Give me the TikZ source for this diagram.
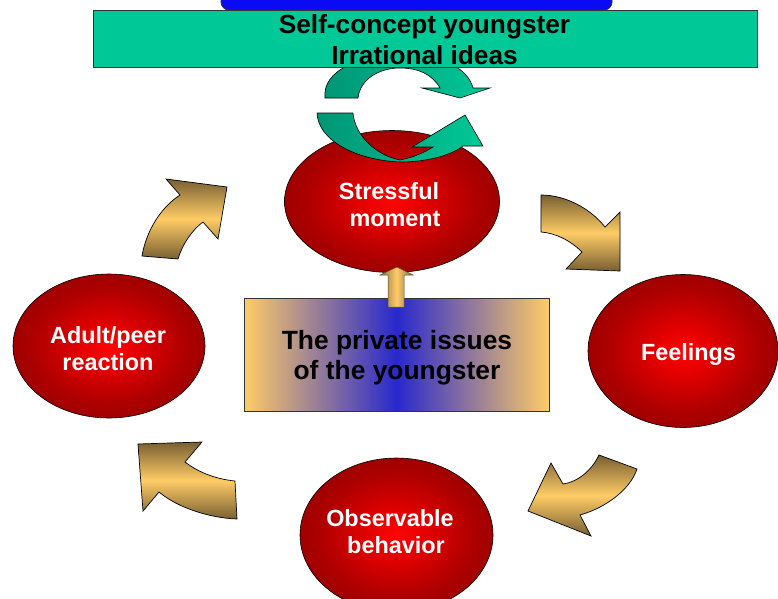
\documentclass[tikz,border=0pt]{standalone}
\usepackage{fontspec}
\setmainfont{Liberation Sans}
\usetikzlibrary{shapes.geometric,calc}
\definecolor{goldL}{RGB}{255,204,102}
\definecolor{goldD}{RGB}{120,95,50}
\definecolor{tealL}{RGB}{0,200,150}
\definecolor{tealD}{RGB}{0,150,118}
\definecolor{midblue}{RGB}{40,40,205}
\definecolor{topblue}{RGB}{10,10,245}
\pgfdeclareradialshading{redball}{\pgfpoint{0bp}{0bp}}{rgb(0bp)=(1,0.02,0.02); rgb(7bp)=(0.9,0,0); rgb(20bp)=(0.68,0,0); rgb(36bp)=(0.52,0,0); rgb(50bp)=(0.42,0,0)}
\begin{document}
\begin{tikzpicture}[x=1pt,y=-1pt,
  ell/.style={ellipse, draw=black, line width=0.6pt, shade, shading=redball, inner sep=0},
  wtxt/.style={font=\fontsize{23.4}{27}\selectfont\bfseries, text=white, align=center, inner sep=0},
  btxt/.style={font=\fontsize{26.2}{31}\selectfont\bfseries, text=black, align=center, inner sep=0},
  goldarrow/.style={draw=black, line width=0.7pt, top color=goldD, bottom color=goldD, middle color=goldL},
  greenarrow/.style={draw=black, line width=0.6pt, left color=tealD, right color=tealL},
  boxline/.style={draw=black!80, line width=0.8pt}
]
\useasboundingbox (0,0) rectangle (778,598);
\clip (0,0) rectangle (778,598);

% upper green circular arrow (behind the green box)
\draw[greenarrow] (325,98) .. controls (322,70) and (360,55) .. (405,54)
  .. controls (440,54) and (468,68) .. (473,88) -- (490,88) -- (460,98) -- (422,88) -- (440,88)
  .. controls (432,74) and (418,68) .. (400,68)
  .. controls (378,68) and (360,80) .. (358,98) -- cycle;

% top boxes
\node[boxline, fill=topblue, rounded corners=8, minimum width=391, minimum height=40, inner sep=0] (topbox) at (416.5,-10) {};
\node[boxline, fill=tealL, minimum width=664, minimum height=57, inner sep=0] (selfbox) at (425,38.5) {};
\node[btxt] (selftxt) at (424.5,39.4) {Self-concept youngster\\Irrational ideas};

% ellipses
\node[ell, minimum width=215, minimum height=142] (stress) at (392,201.5) {};
\node[ell, minimum width=192, minimum height=144] (adult) at (109,346) {};
\node[ell, minimum width=190, minimum height=153] (feel) at (683,351) {};
\node[ell, minimum width=193, minimum height=154] (obs) at (396.5,535) {};

% lower green circular arrow (over the ellipse)
\draw[greenarrow] (317,113) -- (353,113) .. controls (355,135) and (375,155) .. (400,160)
  .. controls (415,157) and (425,152) .. (433,147) -- (412,147) -- (465,115) -- (483,146) -- (463,146)
  .. controls (450,156) and (425,162) .. (400,162)
  .. controls (355,160) and (318,140) .. (317,113) -- cycle;

% gold curved arrows
\draw[goldarrow] (541,195) .. controls (565,195) and (590,208) .. (605,227) -- (620,212) -- (620,271) -- (566,269) -- (582,252)
  .. controls (570,240) and (555,233) .. (541,232) -- cycle;
\draw[goldarrow] (142,256) .. controls (146,232) and (160,208) .. (180,195) -- (166,179) -- (227,187) -- (218,239) -- (203,222)
  .. controls (192,230) and (182,245) .. (178,259) -- cycle;
\draw[goldarrow] (599,455) -- (637,469) .. controls (630,490) and (605,508) .. (580,515) -- (591,536) -- (528,511) -- (551,463) -- (563,484)
  .. controls (578,482) and (592,470) .. (599,455) -- cycle;
\draw[goldarrow] (235,481) -- (237,519) .. controls (210,518) and (178,508) .. (159,492) -- (143,511) -- (138,444) -- (202,442) -- (185,462)
  .. controls (198,472) and (215,479) .. (235,481) -- cycle;

% centre box
\node[boxline, left color=goldL, right color=goldL, middle color=midblue, minimum width=305, minimum height=113, inner sep=0] (issues) at (396.5,354.5) {};
\node[btxt, font=\fontsize{26.4}{30}\selectfont\bfseries] (issuestxt) at (397,357.6) {The private issues\\of the youngster};

% small up arrow from the box to the stressful moment
\draw[draw=goldD!80!black, line width=0.5pt, left color=goldD!90, right color=goldD!90, middle color=goldL]
  (388,307) -- (388,275) -- (380,275) -- (397,267) -- (413,275) -- (404,275) -- (404,307) -- cycle;

% ellipse texts
\node[wtxt] (stresstxt) at (389,205) {Stressful\\\hspace*{12pt}moment};
\node[wtxt] (adulttxt) at (108,348.4) {Adult/peer\\reaction};
\node[wtxt] (feeltxt) at (688.5,354.3) {Feelings};
\node[wtxt] (obstxt) at (390,532) {Observable\\\hspace*{12pt}behavior};
\end{tikzpicture}
\end{document}
